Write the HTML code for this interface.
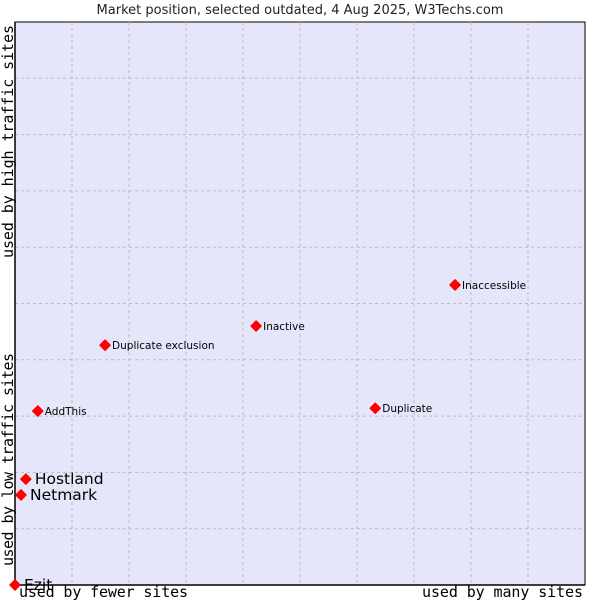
<!DOCTYPE html>
<html><head><meta charset="utf-8"><style>body{margin:0;background:#fff}svg{display:block}</style></head>
<body>
<svg width="600" height="600" xmlns="http://www.w3.org/2000/svg">
<rect x="0" y="0" width="600" height="600" fill="#fff"/>
<text x="300" y="14" text-anchor="middle" font-family="DejaVu Sans, sans-serif" font-size="13" fill="#222">Market position, selected outdated, 4 Aug 2025, W3Techs.com</text>
<rect x="15" y="22" width="570" height="563" fill="#e6e6fa" stroke="#000" stroke-width="1"/>
<g id="grid"></g>
<line x1="15" y1="22" x2="15" y2="585" stroke="#000" stroke-width="1.5"/>
<line x1="15" y1="585" x2="585" y2="585" stroke="#000" stroke-width="1.5"/>
<g id="points"></g>
<text x="19" y="597" textLength="169" font-family="DejaVu Sans Mono, Liberation Mono, monospace" font-size="15" fill="#000">used by fewer sites</text>
<text x="422" y="597" textLength="161" font-family="DejaVu Sans Mono, Liberation Mono, monospace" font-size="15" fill="#000">used by many sites</text>
<text transform="translate(13,258) rotate(-90)" textLength="233" font-family="DejaVu Sans Mono, Liberation Mono, monospace" font-size="15" fill="#000">used by high traffic sites</text>
<text transform="translate(13,566) rotate(-90)" textLength="213" font-family="DejaVu Sans Mono, Liberation Mono, monospace" font-size="15" fill="#000">used by low traffic sites</text>
</svg>
<script>
const names = ["Ezit","Netmark","Hostland","AddThis","Duplicate exclusion","Inactive","Duplicate","Inaccessible"];
const xValues = [0, 1.05, 1.9, 4.0, 15.8, 42.3, 63.2, 77.2];
const yValues = [0, 16.0, 18.8, 30.9, 42.6, 46.0, 31.4, 53.3];
const bigLabel = [true, true, true, false, false, false, false, false];
const NS="http://www.w3.org/2000/svg";
const X0=15,X1=585,Y0=585,Y1=22;
function sx(v){return X0+(X1-X0)*v/100;}
function sy(v){return Y0-(Y0-Y1)*v/100;}
const grid=document.getElementById('grid');
for(let i=1;i<10;i++){
  const l=document.createElementNS(NS,'line');
  l.setAttribute('x1',X0+57*i);l.setAttribute('x2',X0+57*i);l.setAttribute('y1',Y1);l.setAttribute('y2',Y0);
  l.setAttribute('stroke','#bbb');l.setAttribute('stroke-dasharray','3,3');
  
  
  grid.appendChild(l);
  const h=document.createElementNS(NS,'line');
  const y=Y1+(Y0-Y1)*i/10;
  h.setAttribute('x1',X0);h.setAttribute('x2',X1);h.setAttribute('y1',y);h.setAttribute('y2',y);
  h.setAttribute('stroke','#bbb');h.setAttribute('stroke-dasharray','3,3');
  
  
  grid.appendChild(h);
}
const pts=document.getElementById('points');
names.forEach((n,i)=>{
  const x=sx(xValues[i]),y=sy(yValues[i]);
  const d=document.createElementNS(NS,'path');
  d.setAttribute('d',`M${x-5},${y} L${x},${y-5} L${x+5},${y} L${x},${y+5} Z`);
  d.setAttribute('fill','#f00');
  d.setAttribute('stroke','#f00');
  d.setAttribute('stroke-linejoin','round');
  d.setAttribute('stroke-width','1.5');
  
  
  pts.appendChild(d);
  const t=document.createElementNS(NS,'text');
  t.setAttribute('x',x+(bigLabel[i]?9:7));
  t.setAttribute('y',y+(bigLabel[i]?5:4));
  t.setAttribute('font-family','DejaVu Sans, sans-serif');
  t.setAttribute('font-size',bigLabel[i]?'15.5':'10.5');
  t.setAttribute('fill','#000');
  t.textContent=n;
  
  
  pts.appendChild(t);
});
</script>
</body></html>
